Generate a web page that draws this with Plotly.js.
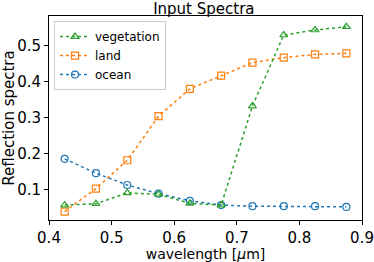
<!DOCTYPE html>
<html><head><meta charset="utf-8">
<script src="https://cdn.plot.ly/plotly-3.0.1.min.js"></script>
<style>body{margin:0}#c{width:374px;height:262px}</style>
</head><body><div id="c"></div>
<script>
const wavelength = [0.425,0.475,0.525,0.575,0.625,0.675,0.725,0.775,0.825,0.875];
const vegetation = [0.056,0.060,0.090,0.086,0.061,0.056,0.332,0.530,0.544,0.553];
const land = [0.038,0.102,0.181,0.304,0.380,0.417,0.453,0.467,0.476,0.479];
const ocean = [0.185,0.145,0.112,0.088,0.068,0.056,0.053,0.053,0.053,0.051];
const names = ['ocean','land','vegetation'];
const colors = ['#1f77b4','#ff7f0e','#2ca02c'];
const symbols = ['circle-open','square-open','triangle-up-open'];
const series = [ocean, land, vegetation];
const traces = series.map((s,i)=>({
  x: wavelength, y: s, name: names[i], mode:'lines+markers', type:'scatter',
  line:{color:colors[i], dash:'dot', width:1.5},
  marker:{symbol:symbols[i], size:7, color:colors[i], line:{width:1.2, color:colors[i]}}
}));
const tickfont = {family:'DejaVu Sans', size:15, color:'#000'};
const labfont = {family:'DejaVu Sans', size:14, color:'#000'};
Plotly.newPlot('c', traces, {
  width:374, height:262,
  margin:{l:49, r:12, t:16, b:42},
  paper_bgcolor:'#fff', plot_bgcolor:'#fff',
  font: labfont,
  title:{text:'Input Spectra', font:{family:'DejaVu Sans', size:15, color:'#000'}, x:0.545, xanchor:'center', y:0.968, yanchor:'middle'},
  xaxis:{range:[0.4,0.9], tickvals:[0.4,0.5,0.6,0.7,0.8,0.9], ticktext:['0.4','0.5','0.6','0.7','0.8','0.9'],
    showgrid:false, zeroline:false, showline:true, linecolor:'#000', linewidth:1, mirror:true,
    ticks:'outside', ticklen:4, tickcolor:'#000', tickfont:tickfont,
    title:{text:'wavelength [<i>μ</i>m]', font:labfont, standoff:3}},
  yaxis:{range:[0.0145,0.583], tickvals:[0.1,0.2,0.3,0.4,0.5], ticktext:['0.1','0.2','0.3','0.4','0.5'],
    showgrid:false, zeroline:false, showline:true, linecolor:'#000', linewidth:1, mirror:true,
    ticks:'outside', ticklen:4, tickcolor:'#000', tickfont:tickfont,
    title:{text:'Reflection spectra', font:{family:'DejaVu Sans', size:15, color:'#000'}, standoff:3}},
  legend:{x:0.016, y:0.975, xanchor:'left', yanchor:'top', traceorder:'reversed',
    bgcolor:'rgba(255,255,255,0.8)', bordercolor:'#ccc', borderwidth:1,
    font:{family:'DejaVu Sans', size:12}, tracegroupgap:0, itemwidth:30},
  showlegend:true
}, {staticPlot:true});
</script></body></html>
